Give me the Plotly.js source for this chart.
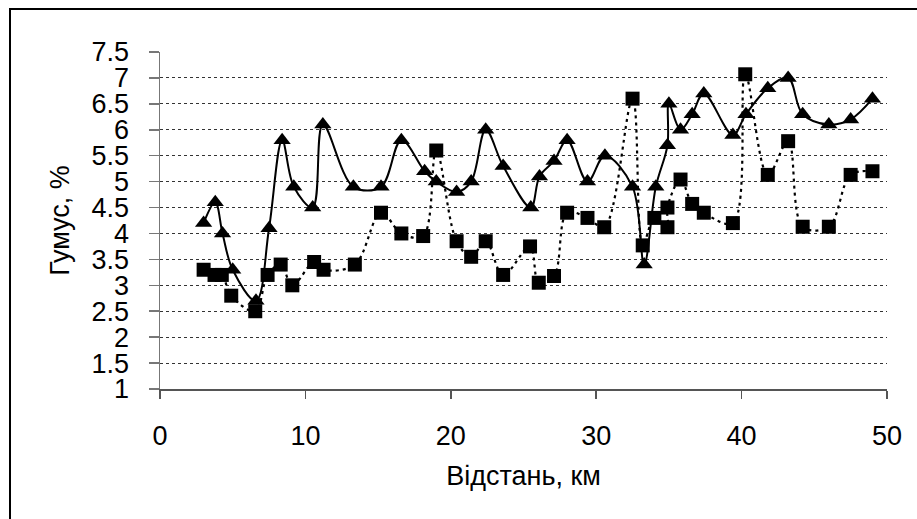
<!DOCTYPE html>
<html>
<head>
<meta charset="utf-8">
<script src="https://cdn.plot.ly/plotly-3.0.1.min.js"></script>
<style>
  html, body { margin: 0; padding: 0; background: #fff; }
  #wrap { position: relative; width: 917px; height: 519px; overflow: hidden; }
  #chart { position: absolute; left: 0; top: 0; width: 917px; height: 519px; }
  #frame { position: absolute; left: 9px; top: 8px; width: 1000px; height: 600px;
           border-left: 2px solid #000; border-top: 2px solid #000; pointer-events: none; }
</style>
</head>
<body>
<div id="wrap">
  <div id="chart"></div>
  <div id="frame"></div>
</div>
<script>
// Distance, km and humus, % (triangles, solid smoothed line)
const triDistance = [3.0, 3.8, 4.3, 5.0, 6.6, 7.5, 8.4, 9.2, 10.5, 11.2, 13.3, 15.2, 16.6, 18.2, 19.0, 20.4, 21.4, 22.4, 23.6, 25.5, 26.1, 27.1, 28.0, 29.4, 30.6, 32.5, 33.3, 34.1, 34.9, 35.0, 35.8, 36.6, 37.4, 39.4, 40.3, 41.8, 43.2, 44.2, 46.0, 47.5, 49.0];
const triHumus    = [4.2, 4.6, 4.0, 3.3, 2.7, 4.1, 5.8, 4.9, 4.5, 6.1, 4.9, 4.9, 5.8, 5.2, 5.0, 4.8, 5.0, 6.0, 5.3, 4.5, 5.1, 5.4, 5.8, 5.0, 5.5, 4.9, 3.4, 4.9, 5.7, 6.5, 6.0, 6.3, 6.7, 5.9, 6.3, 6.8, 7.0, 6.3, 6.1, 6.2, 6.6];

// Distance, km and humus, % (squares, dotted smoothed line)
const sqDistance = [3.0, 3.75, 4.25, 4.9, 6.55, 7.4, 8.3, 9.1, 10.6, 11.25, 13.4, 15.2, 16.6, 18.1, 19.0, 20.4, 21.4, 22.4, 23.6, 25.45, 26.05, 27.1, 28.0, 29.4, 30.55, 32.5, 33.2, 34.0, 34.9, 34.9, 35.8, 36.6, 37.4, 39.4, 40.25, 41.8, 43.2, 44.2, 46.0, 47.5, 49.0];
const sqHumus    = [3.3, 3.2, 3.2, 2.8, 2.5, 3.2, 3.4, 3.0, 3.45, 3.3, 3.4, 4.4, 4.0, 3.95, 5.6, 3.85, 3.55, 3.85, 3.2, 3.75, 3.05, 3.18, 4.4, 4.3, 4.12, 6.6, 3.77, 4.3, 4.12, 4.5, 5.04, 4.57, 4.4, 4.2, 7.07, 5.13, 5.78, 4.13, 4.13, 5.13, 5.2];

const xTickVals = [0, 10, 20, 30, 40, 50];
const xTickText = ['0', '10', '20', '30', '40', '50'];
const yTickVals = [1, 1.5, 2, 2.5, 3, 3.5, 4, 4.5, 5, 5.5, 6, 6.5, 7, 7.5];
const yTickText = ['1', '1.5', '2', '2.5', '3', '3.5', '4', '4.5', '5', '5.5', '6', '6.5', '7', '7.5'];

const FONT = '"Liberation Sans", Arial, sans-serif';

const traces = [
  {
    x: sqDistance, y: sqHumus, type: 'scatter', mode: 'lines+markers',
    line: { color: '#000', width: 2.2, dash: '3px,4px', shape: 'spline', smoothing: 1 },
    marker: { symbol: 'square', size: 14, color: '#000' },
    hoverinfo: 'skip'
  },
  {
    x: triDistance, y: triHumus, type: 'scatter', mode: 'lines+markers',
    line: { color: '#000', width: 2, shape: 'spline', smoothing: 1 },
    marker: { symbol: 'triangle-up', size: 15, color: '#000' },
    hoverinfo: 'skip'
  }
];

const layout = {
  width: 917, height: 519,
  margin: { l: 160, r: 30, t: 52, b: 130, pad: 0 },
  paper_bgcolor: '#fff', plot_bgcolor: '#fff',
  showlegend: false,
  font: { family: FONT, size: 27, color: '#000' },
  xaxis: {
    range: [0, 50], tickmode: 'array', tickvals: xTickVals, ticktext: xTickText,
    showgrid: false, zeroline: false,
    showline: true, linecolor: '#555', linewidth: 1.5,
    ticks: 'outside', ticklen: 8, tickcolor: '#555', tickwidth: 1.5,
    tickfont: { family: FONT, size: 27, color: '#000' },
    ticklabelstandoff: 14,
    title: { text: 'Відстань, км', font: { family: FONT, size: 27, color: '#000' }, standoff: 16 }
  },
  yaxis: {
    range: [1, 7.5], tickmode: 'array', tickvals: yTickVals, ticktext: yTickText,
    showgrid: true, gridcolor: '#333', gridwidth: 1, griddash: '3px,3px',
    zeroline: false,
    showline: true, linecolor: '#777', linewidth: 1.5,
    ticks: 'outside', ticklen: 10, tickcolor: '#777', tickwidth: 1.5,
    tickfont: { family: FONT, size: 27, color: '#000' },
    ticklabelstandoff: 14,
    title: { text: 'Гумус, %', font: { family: FONT, size: 27, color: '#000' }, standoff: 14 }
  }
};

Plotly.newPlot('chart', traces, layout, { staticPlot: true, displayModeBar: false });
</script>
</body>
</html>
